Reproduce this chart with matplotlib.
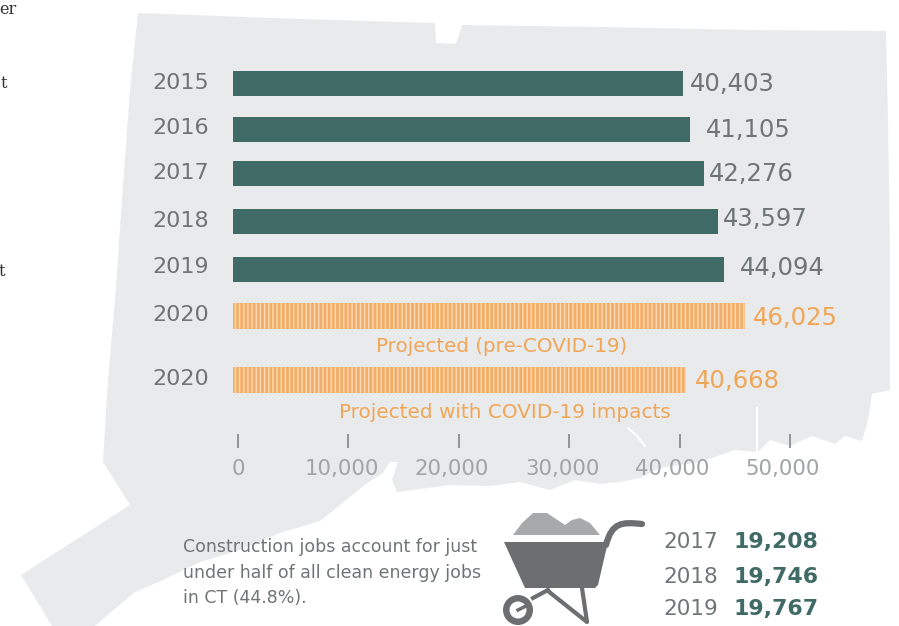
import matplotlib
matplotlib.use('Agg')
import matplotlib.pyplot as plt
from matplotlib.patches import Polygon, Circle, PathPatch
from matplotlib.path import Path
from matplotlib.transforms import ScaledTranslation

years = ['2015', '2016', '2017', '2018', '2019', '2020', '2020']
jobs = [40403, 41105, 42276, 43597, 44094, 46025, 40668]
projected = [False, False, False, False, False, True, True]
ticks = [0, 10000, 20000, 30000, 40000, 50000]

constr_years = ['2017', '2018', '2019']
constr_jobs = [19208, 19746, 19767]

GREEN = '#3f6a65'
ORANGE = '#f0a657'
GREY = '#6f7577'
LIGHT = '#a0a4a6'
BG = '#e9eaec'
W, H = 899, 626

# layout, in pixels from the top left
bar_y = [83, 129, 173, 221, 269, 316, 380]
bar_h = [25, 25, 25, 25, 25, 26, 26]
year_y = [83, 128, 173, 221, 267, 315, 379]
val_x = [690, 706, 709, 723, 740, 753, 695]
val_y = [84, 130, 174, 219, 268, 318, 381]

state = [(138, 13), (300, 19), (435, 23), (436, 43), (455, 44), (458, 38), (462, 25),
         (600, 27), (750, 30), (886, 31), (888, 120), (890, 250), (890, 390), (872, 394),
         (868, 420), (862, 441), (845, 436), (835, 444), (812, 436), (790, 446), (770, 440),
         (758, 452), (735, 450), (700, 462), (660, 468), (640, 478), (620, 482), (600, 484),
         (575, 480), (550, 490), (520, 482), (490, 486), (450, 485), (413, 490), (397, 492),
         (392, 480), (398, 462), (390, 462), (383, 473), (367, 483), (340, 505), (320, 521),
         (280, 533), (240, 550), (200, 562), (163, 580), (135, 592), (110, 613), (95, 626),
         (52, 626), (21, 575), (130, 505), (103, 462), (108, 380), (115, 300), (122, 200),
         (130, 90)]

fig = plt.figure(figsize=(W / 100, H / 100), dpi=100)

# full size layer for the map, the wheelbarrow and all the labels
bg = fig.add_axes([0, 0, 1, 1])
bg.set_xlim(0, W)
bg.set_ylim(H, 0)
bg.axis('off')
bg.add_patch(Polygon(state, closed=True, fc=BG, ec='none'))
bg.plot([628, 637, 645], [428, 436, 446], color='white', lw=1.5)
bg.plot([757, 757], [408, 452], color='white', lw=1.5)

# bars
ax = fig.add_axes([233 / W, 0, 11.13 * 50 / W, 1])
ax.set_xlim(0, 50000)
ax.set_ylim(H, 0)
ax.axis('off')
matplotlib.rcParams['hatch.linewidth'] = 1.0
for i in range(len(jobs)):
    if projected[i]:
        ax.barh(bar_y[i], jobs[i], height=bar_h[i], color='#f3ad66', edgecolor='#fbdcb8',
                hatch='||||', linewidth=0)
    else:
        ax.barh(bar_y[i], jobs[i], height=bar_h[i], color=GREEN)

for i in range(len(jobs)):
    c = ORANGE if projected[i] else GREY
    bg.text(152, year_y[i], years[i], color=GREY, fontsize=16, va='center')
    bg.text(val_x[i], val_y[i], f'{jobs[i]:,}', color=c, fontsize=17.5, va='center')

bg.text(502, 346, 'Projected (pre-COVID-19)', color=ORANGE, fontsize=14.3, ha='center', va='center')
bg.text(505, 412, 'Projected with COVID-19 impacts', color=ORANGE, fontsize=14.4, ha='center', va='center')

# value axis sits on its own scale under the bars
tx = fig.add_axes([238 / W, 1 - 434 / H, 552 / W, 1 / H])
tx.set_xlim(0, 50000)
tx.set_yticks([])
for s in tx.spines.values():
    s.set_visible(False)
tx.patch.set_alpha(0)
tx.set_xticks(ticks)
tx.set_xticklabels([f'{t:,}' for t in ticks], color=LIGHT, fontsize=15.3)
tx.tick_params(axis='x', length=10, width=1.4, color='#8f9496', pad=8)
for lab, t in zip(tx.get_xticklabels(), ticks):
    if t > 0:
        lab.set_transform(lab.get_transform() + ScaledTranslation(-7 / 100, 0, fig.dpi_scale_trans))

# note at the bottom
note = ['Construction jobs account for just', 'under half of all clean energy jobs', 'in CT (44.8%).']
for line, y in zip(note, [547, 573, 598]):
    bg.text(183, y, line, color=GREY, fontsize=12.5, va='center')

# wheelbarrow
BARROW = '#6d6e70'
bg.add_patch(Polygon([(513, 535), (522, 523), (533, 513), (547, 513), (556, 519), (565, 525),
                      (572, 520), (580, 518), (590, 523), (600, 535)], fc='#a8a9ab', ec='none'))
bg.add_patch(Polygon([(504, 542), (608, 542), (598, 585), (595, 588), (525, 588)], fc=BARROW, ec='none'))
handle = Path([(606, 545), (612, 522), (622, 522), (642, 524)],
              [Path.MOVETO, Path.CURVE4, Path.CURVE4, Path.CURVE4])
bg.add_patch(PathPatch(handle, fc='none', ec=BARROW, lw=4.5, capstyle='round'))
bg.plot([533, 548], [598, 590], color=BARROW, lw=3)
bg.plot([548, 587, 582], [591, 622, 588], color=BARROW, lw=3)
bg.add_patch(Circle((518, 610), 15, fc=BARROW, ec='none'))
bg.add_patch(Circle((518, 610), 8.5, fc='white', ec='none'))
bg.plot([518, 526], [610, 606], color=BARROW, lw=2.5)

for yr, n, y in zip(constr_years, constr_jobs, [542, 577, 609]):
    bg.text(663, y, yr, color=GREY, fontsize=15.5, va='center')
    bg.text(733, y, f'{n:,}', color=GREEN, fontsize=15.8, fontweight='bold', va='center')

# tail ends of the body copy next to the graphic
for s, x, y in [('er', -1, 10), ('t', 1, 84), ('t', -1, 272)]:
    bg.text(x, y, s, family='DejaVu Serif', color='#333333', fontsize=11.5, va='center')

fig.savefig('out.png', dpi=100)
